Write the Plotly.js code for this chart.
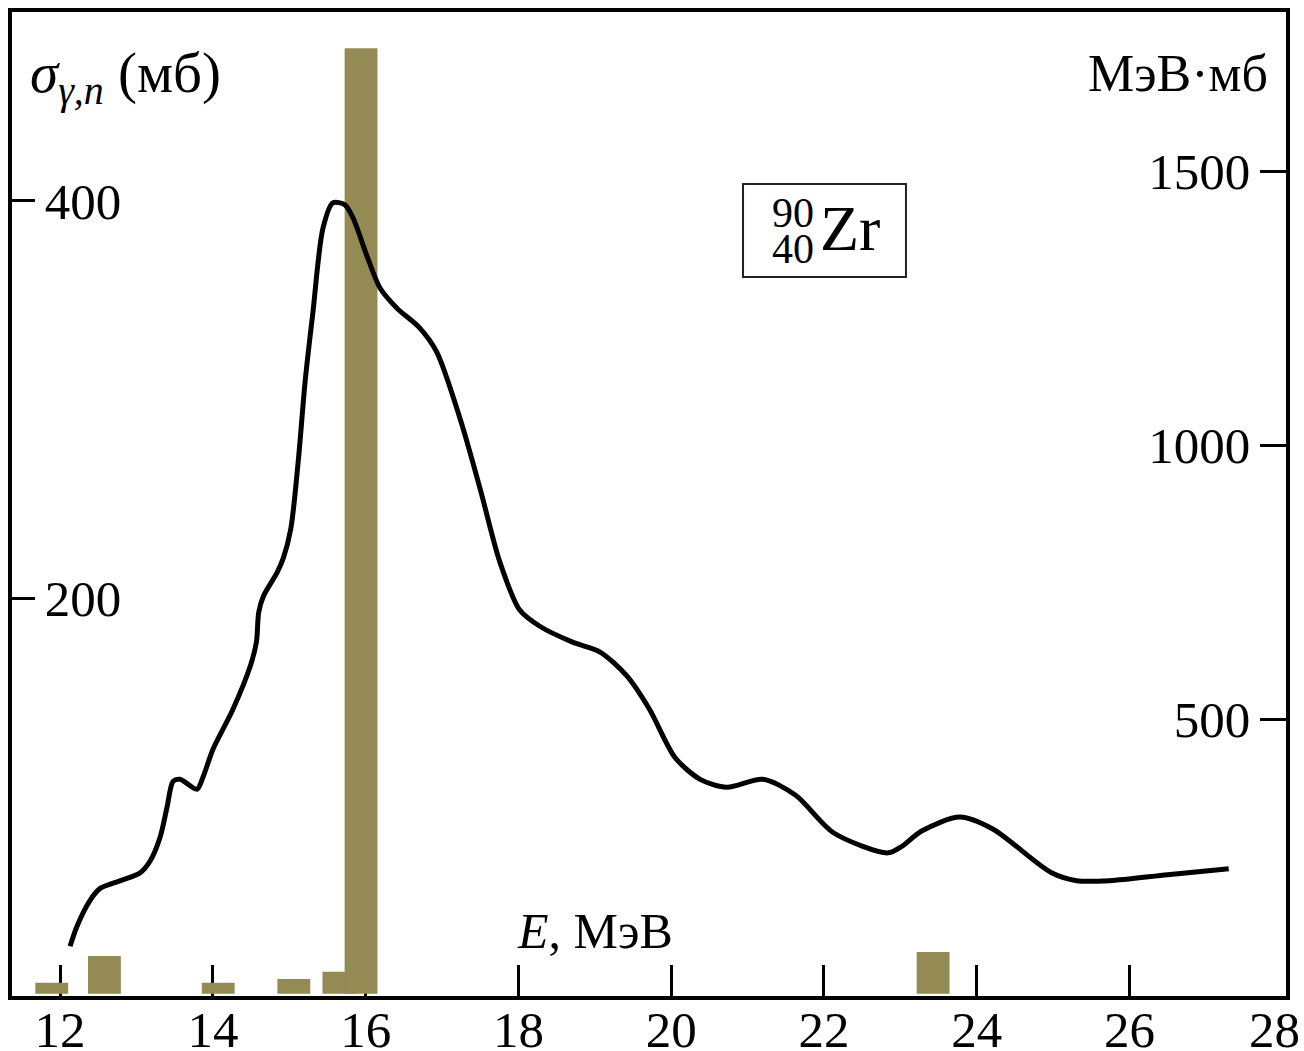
<!DOCTYPE html>
<html>
<head>
<meta charset="utf-8">
<script src="https://cdn.plot.ly/plotly-3.0.1.min.js"></script>
<style>html,body{margin:0;padding:0;background:#fff;}</style>
</head>
<body>
<div id="chart" style="width:1304px;height:1051px;"></div>
<script>
// Cross section curve sigma(gamma,n), mb, vs E (MeV)
const curveE = [12.13, 12.22, 12.39, 12.52, 12.79, 13.05, 13.18, 13.31, 13.40, 13.48, 13.57, 13.79, 13.87, 14.00, 14.26, 14.49, 14.57, 14.60, 14.66, 14.84, 14.92, 15.02, 15.12, 15.21, 15.31, 15.44, 15.57, 15.73, 15.84, 16.02, 16.19, 16.41, 16.71, 16.93, 17.24, 17.50, 17.76, 18.02, 18.28, 18.71, 19.07, 19.42, 19.72, 20.05, 20.38, 20.73, 21.20, 21.63, 22.13, 22.84, 23.01, 23.28, 23.78, 24.21, 24.98, 25.31, 25.74, 26.50, 27.30];
const curveSigma = [25, 35, 48, 54, 58, 62, 68, 80, 95, 108, 109, 104, 110, 124, 144, 166, 178, 193, 201, 213, 220, 235, 270, 310, 344, 386, 399, 398, 391, 372, 356, 346, 336, 324, 290, 255, 218, 194, 186, 178, 173, 161, 144, 120, 109, 105, 109, 101, 82, 72, 75, 83, 90, 84, 62, 58, 58, 61, 64];

// Integrated strength bars, MeV*mb
const barE = [11.89, 12.58, 14.07, 15.06, 15.65, 15.94, 23.43];
const barStrength = [20, 69, 20, 27, 40, 1724, 76];

const xTicks = [12, 14, 16, 18, 20, 22, 24, 26];
const leftTicks = [200, 400];
const rightTicks = [500, 1000, 1500];
const X_RANGE = [11.37, 28.05];

const FONT = "Liberation Serif, Times New Roman, serif";

const traces = [
  {
    type: 'bar', x: barE, y: barStrength, width: 0.43,
    marker: {color: '#948a54', line: {width: 0}},
    xaxis: 'x', yaxis: 'y', hoverinfo: 'x+y'
  },
  {
    type: 'scatter', mode: 'lines', x: curveE, y: curveSigma,
    line: {color: '#000', width: 5, shape: 'spline', smoothing: 0.8},
    xaxis: 'x2', yaxis: 'y2'
  }
];

const layout = {
  width: 1304, height: 1051,
  margin: {l: 12, r: 18, t: 12, b: 55},
  paper_bgcolor: '#fff', plot_bgcolor: '#fff',
  showlegend: false,
  font: {family: FONT, size: 50, color: '#000'},
  xaxis: {
    range: X_RANGE, tickvals: xTicks, ticktext: xTicks.map(String),
    ticks: 'inside', ticklen: 31, tickwidth: 3, tickcolor: '#000',
    ticklabelstandoff: -14, layer: 'below traces',
    showline: true, linewidth: 4, linecolor: '#000', mirror: true,
    showgrid: false, zeroline: false,
    tickfont: {family: FONT, size: 51, color: '#000'}
  },
  xaxis2: {
    range: X_RANGE, overlaying: 'x', anchor: 'y2', visible: false
  },
  yaxis: {
    side: 'right', range: [-4, 1790], tickvals: rightTicks,
    ticks: 'inside', ticklen: 26, tickwidth: 3, tickcolor: '#000',
    ticklabelposition: 'inside', ticklabelstandoff: 17,
    showline: true, linewidth: 4, linecolor: '#000',
    showgrid: false, zeroline: false,
    tickfont: {family: FONT, size: 51, color: '#000'}
  },
  yaxis2: {
    side: 'left', overlaying: 'y', anchor: 'x2', range: [0, 495], tickvals: leftTicks,
    ticks: 'inside', ticklen: 23, tickwidth: 3, tickcolor: '#000',
    ticklabelposition: 'inside', ticklabelstandoff: 17,
    showline: true, linewidth: 4, linecolor: '#000',
    showgrid: false, zeroline: false,
    tickfont: {family: FONT, size: 51, color: '#000'}
  },
  shapes: [
    {type: 'rect', xref: 'paper', yref: 'paper', x0: 0.5738, x1: 0.7017, y0: 0.7307, y1: 0.8252,
     line: {color: '#222', width: 2}, fillcolor: 'rgba(0,0,0,0)'}
  ],
  annotations: [
    {xref: 'paper', yref: 'paper', x: 0.0126, y: 0.934, xanchor: 'left', yanchor: 'middle', showarrow: false,
     text: '<i>σ</i><sub><i>γ,n</i></sub> (мб)', font: {family: FONT, size: 57, color: '#000'}},
    {xref: 'paper', yref: 'paper', x: 0.9874, y: 0.937, xanchor: 'right', yanchor: 'middle', showarrow: false,
     text: 'МэВ·мб', font: {family: FONT, size: 52, color: '#000'}},
    {xref: 'paper', yref: 'paper', x: 0.3948, y: 0.066, xanchor: 'left', yanchor: 'middle', showarrow: false,
     text: '<i>E</i>, МэВ', font: {family: FONT, size: 50, color: '#000'}},
    {xref: 'paper', yref: 'paper', x: 0.6130, y: 0.7957, xanchor: 'center', yanchor: 'middle', showarrow: false,
     text: '90', font: {family: FONT, size: 42, color: '#000'}},
    {xref: 'paper', yref: 'paper', x: 0.6130, y: 0.7591, xanchor: 'center', yanchor: 'middle', showarrow: false,
     text: '40', font: {family: FONT, size: 42, color: '#000'}},
    {xref: 'paper', yref: 'paper', x: 0.6327, y: 0.7795, xanchor: 'left', yanchor: 'middle', showarrow: false,
     text: 'Zr', font: {family: FONT, size: 64, color: '#000'}},
    {xref: 'paper', yref: 'paper', x: 0.9906, y: -0.0346, xanchor: 'center', yanchor: 'middle', showarrow: false,
     text: '28', font: {family: FONT, size: 51, color: '#000'}}
  ]
};

Plotly.newPlot('chart', traces, layout, {displayModeBar: false, staticPlot: true});
</script>
</body>
</html>
